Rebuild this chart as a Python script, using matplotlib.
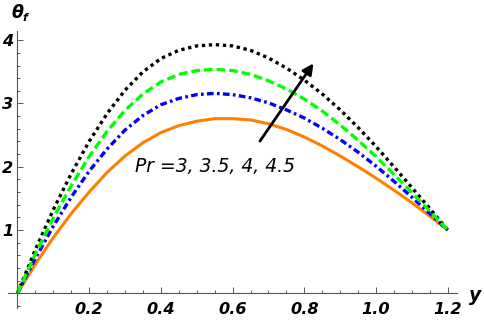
import numpy as np
import matplotlib
matplotlib.use('Agg')
import matplotlib.pyplot as plt
from matplotlib.ticker import MultipleLocator, FixedLocator

# values
y_vals = [0.0, 0.05, 0.1, 0.15, 0.2, 0.25, 0.3, 0.35, 0.4, 0.45, 0.5, 0.55, 0.6,
          0.65, 0.7, 0.75, 0.8, 0.85, 0.9, 0.95, 1.0, 1.05, 1.1, 1.15, 1.2]
theta_pr3 = [0.0, 0.46, 0.88, 1.26, 1.60, 1.91, 2.17, 2.38, 2.54, 2.65, 2.72, 2.76, 2.76,
             2.74, 2.68, 2.59, 2.47, 2.33, 2.17, 2.00, 1.82, 1.63, 1.43, 1.22, 1.0]
theta_pr35 = [0.0, 0.55, 1.06, 1.52, 1.93, 2.28, 2.58, 2.81, 2.98, 3.08, 3.14, 3.16, 3.14,
              3.09, 3.01, 2.90, 2.77, 2.61, 2.43, 2.23, 2.01, 1.77, 1.52, 1.26, 1.0]
theta_pr4 = [0.0, 0.62, 1.19, 1.70, 2.16, 2.56, 2.89, 3.15, 3.34, 3.46, 3.52, 3.54, 3.52,
             3.46, 3.36, 3.23, 3.07, 2.88, 2.66, 2.42, 2.16, 1.88, 1.59, 1.30, 1.0]
theta_pr45 = [0.0, 0.69, 1.32, 1.89, 2.40, 2.84, 3.21, 3.50, 3.71, 3.84, 3.91, 3.93, 3.91,
              3.84, 3.72, 3.56, 3.37, 3.15, 2.90, 2.62, 2.32, 2.00, 1.67, 1.34, 1.0]

x_ticks = [0.2, 0.4, 0.6, 0.8, 1.0, 1.2]
x_labels = ['0.2', '0.4', '0.6', '0.8', '1.0', '1.2']
y_ticks = [1, 2, 3, 4]
y_labels = ['1', '2', '3', '4']

fig = plt.figure(figsize=(4.84, 3.2), dpi=100)
ax = fig.add_axes([0.016, 0.036, 0.9276, 0.868])

ax.plot(y_vals, theta_pr3, color='#ff8000', lw=2.2, solid_capstyle='butt',
        solid_joinstyle='round')
ax.plot(y_vals, theta_pr35, color='#0000ff', lw=2.4, linestyle=(0, (2.0, 1.0, 0.8, 1.0)),
        dash_capstyle='butt')
ax.plot(y_vals, theta_pr45, color='black', lw=2.4, linestyle=(0, (1.0, 1.1)),
        dash_capstyle='butt')
ax.plot(y_vals, theta_pr4, color='#00ff00', lw=2.4, linestyle=(0, (2.6, 1.2)),
        dash_capstyle='butt')

ax.set_xlim(-0.027, 1.225)
ax.set_ylim(-0.24, 4.15)

for side in ['top', 'right']:
    ax.spines[side].set_visible(False)
ax.spines['left'].set_position(('data', 0))
ax.spines['bottom'].set_position(('data', 0))
for side in ['left', 'bottom']:
    ax.spines[side].set_color('#555555')
    ax.spines[side].set_linewidth(0.8)

ax.xaxis.set_major_locator(FixedLocator(x_ticks))
ax.xaxis.set_minor_locator(MultipleLocator(0.05))
ax.yaxis.set_major_locator(FixedLocator(y_ticks))
ax.yaxis.set_minor_locator(MultipleLocator(0.2))
ax.set_xticklabels(x_labels, fontsize=11.6, fontweight='bold', fontstyle='italic')
ax.set_yticklabels(y_labels, fontsize=11.6, fontweight='bold', fontstyle='italic')
ax.tick_params(which='major', direction='in', length=4.5, width=0.7, color='#555555')
ax.tick_params(which='minor', direction='in', length=2.5, width=0.7, color='#555555')
ax.tick_params(axis='x', which='major', pad=6.5)
ax.tick_params(axis='y', which='major', pad=3)

# axis titles
ax.text(0.0, 4.43, '\u03b8', fontsize=12.5, fontweight='bold', fontstyle='italic',
        ha='center', va='center', clip_on=False)
ax.text(0.022, 4.35, 'f', fontsize=8, fontweight='bold', fontstyle='italic',
        ha='center', va='center', clip_on=False)
ax.text(1.276, -0.03, 'y', fontsize=13.5, fontweight='bold', fontstyle='italic',
        ha='center', va='center', clip_on=False)

# parameter annotation
ax.annotate('', xy=(0.83, 3.67), xytext=(0.672, 2.37),
            arrowprops=dict(arrowstyle='-|>', color='black', lw=2, mutation_scale=16))
ax.text(0.328, 2.0, 'Pr =3, 3.5, 4, 4.5', fontsize=13.5, fontstyle='italic',
        ha='left', va='center')

fig.savefig('out.png', dpi=100)
